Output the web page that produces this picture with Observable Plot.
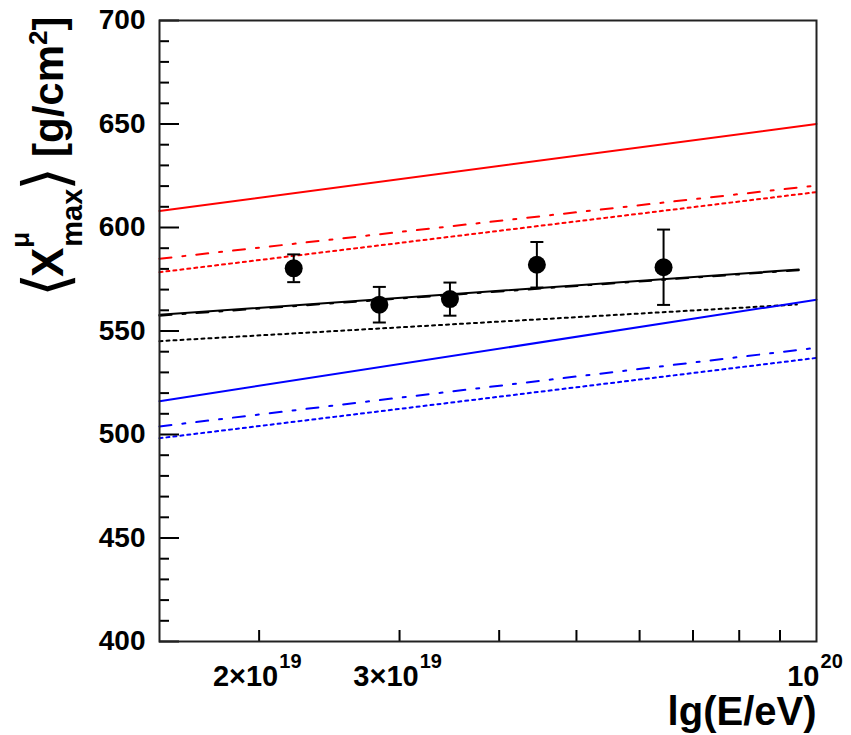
<!DOCTYPE html>
<html><head><meta charset="utf-8">
<script src="https://cdn.jsdelivr.net/npm/d3@7"></script>
<script src="https://cdn.jsdelivr.net/npm/@observablehq/plot@0.6"></script>
<style>body{margin:0;background:#fff}</style>
</head><body><div id="chart"></div>
<script>
// ---- data ----
const modelNames = ["p model 1", "p model 2", "p model 3", "mix model 2", "mix model 1", "mix model 3", "Fe model 1", "Fe model 2", "Fe model 3"];
const modelGroup = ["p", "p", "p", "mix", "mix", "mix", "Fe", "Fe", "Fe"];
const modelKind = ["solid", "dashdot", "dotted", "dashdot", "solid", "dotted", "solid", "dashdot", "dotted"];
const modelStartEnergy = [1.5e19, 1.5e19, 1.5e19, 1.5e19, 1.5e19, 1.5e19, 1.5e19, 1.5e19, 1.5e19];
const modelEndEnergy = [1e20, 1e20, 1e20, 9.5e19, 9.5e19, 9.45e19, 1e20, 1e20, 1e20];
const modelStartXmax = [608.0, 584.9, 578.4, 557.4, 557.8, 545.1, 516.1, 503.9, 498.2];
const modelEndXmax = [650.0, 620.3, 617.1, 579.4, 579.7, 562.8, 565.1, 541.9, 537.0];

const dataEnergy = [2.21e19, 2.83e19, 3.47e19, 4.46e19, 6.43e19];
const dataXmax = [580.3, 562.7, 565.4, 582.0, 580.8];
const dataError = [6.7, 8.6, 8.0, 11.0, 18.2];

const yLabelValues = [400, 450, 500, 550, 600, 650, 700];
const yMajorTicks = [400, 450, 500, 550, 600, 650, 700];
const yMinorTicks = d3.range(400, 701, 10).filter(v => v % 50 !== 0);
const xTickValues = [2e19, 3e19, 4e19, 5e19, 6e19, 7e19, 8e19, 9e19];
const xLabelValues = [2e19, 3e19, 1e20];
const xLabelBase = ["2×10", "3×10", "10"];
const xLabelExp = ["19", "19", "20"];
const xTitle = "lg(E/eV)";

// ---- styles ----
const groupColor = {p: "#ff0000", mix: "#000000", Fe: "#0000ff"};
const kindDash = {solid: null, dashdot: "12,11,3,11", dotted: "3,4"};

const W = 851, H = 735;
const mL = 159, mR = 35, mT = 20, mB = 94;
const plotW = W - mL - mR, plotH = H - mT - mB;
const font = "Liberation Sans, Arial, Helvetica, sans-serif";

const modelTable = modelNames.flatMap((name, i) => [
  {model: name, E: modelStartEnergy[i], X: modelStartXmax[i]},
  {model: name, E: modelEndEnergy[i], X: modelEndXmax[i]}
]);
const points = dataEnergy.map((E, i) => ({E, X: dataXmax[i], lo: dataXmax[i] - dataError[i], hi: dataXmax[i] + dataError[i]}));

const capSymbol = {draw(ctx) { ctx.moveTo(-6.5, 0); ctx.lineTo(6.5, 0); }};

// draw dash-dot first so the solid lies over it
const drawOrder = modelNames.map((_, i) => i).sort((a, b) => (modelKind[a] === "solid") - (modelKind[b] === "solid"));

const marks = [
  ...drawOrder.map(i => Plot.line(modelTable.filter(d => d.model === modelNames[i]), {
    x: "E", y: "X", stroke: groupColor[modelGroup[i]], strokeWidth: 2,
    strokeDasharray: kindDash[modelKind[i]]
  })),
  Plot.ruleX(points, {x: "E", y1: "lo", y2: "hi", stroke: "black", strokeWidth: 2}),
  Plot.dot(points, {x: "E", y: "lo", symbol: capSymbol, stroke: "black", strokeWidth: 2, fill: "none"}),
  Plot.dot(points, {x: "E", y: "hi", symbol: capSymbol, stroke: "black", strokeWidth: 2, fill: "none"}),
  Plot.dot(points, {x: "E", y: "X", r: 9, fill: "black", stroke: "none"}),
  // axis ticks (inside the frame)
  Plot.tickY(yMajorTicks, {y: d => d, insetRight: plotW - 20, stroke: "black", strokeWidth: 2}),
  Plot.tickY(yMinorTicks, {y: d => d, insetRight: plotW - 10, stroke: "black", strokeWidth: 2}),
  Plot.tickX(xTickValues, {x: d => d, insetTop: plotH - 11, stroke: "black", strokeWidth: 2}),
  Plot.frame({stroke: "#222", strokeWidth: 2}),
  // y tick labels
  Plot.text(yLabelValues, {y: d => d, frameAnchor: "left", textAnchor: "end", dx: -14, text: d => String(d), fontSize: 28, fontWeight: "bold", fill: "black"}),
  // x tick labels with exponents
  ...xLabelValues.flatMap((v, i) => {
    const wb = xLabelBase[i].length * 0.556 * 29;
    const we = xLabelExp[i].length * 0.556 * 20;
    const off = (wb - we) / 2 - 2;
    return [
      Plot.text([v], {x: d => d, frameAnchor: "bottom", text: () => xLabelBase[i], textAnchor: "end", lineAnchor: "bottom", dx: off, dy: 44, fontSize: 29, fontWeight: "bold", fill: "black"}),
      Plot.text([v], {x: d => d, frameAnchor: "bottom", text: () => xLabelExp[i], textAnchor: "start", lineAnchor: "bottom", dx: off + 1, dy: 26, fontSize: 20, fontWeight: "bold", fill: "black"})
    ];
  }),
  Plot.text([xTitle], {frameAnchor: "bottom-right", text: d => d, textAnchor: "end", lineAnchor: "bottom", dy: 83, fontSize: 40, fontWeight: "bold", fill: "black"})
];

const chart = Plot.plot({
  width: W, height: H,
  marginLeft: mL, marginRight: mR, marginTop: mT, marginBottom: mB,
  style: {fontFamily: font, background: "white", overflow: "visible"},
  x: {type: "log", domain: [1.5e19, 1e20], axis: null},
  y: {domain: [400, 700], axis: null},
  marks
});
document.getElementById("chart").appendChild(chart);

// y-axis title with sub/superscripts
const svg = d3.select(chart);
const t = svg.append("text")
  .attr("transform", "translate(63,293) rotate(-90)")
  .attr("text-anchor", "start")
  .attr("font-family", font).attr("font-weight", "bold").attr("font-size", 42).attr("fill", "black");
t.append("tspan").attr("font-family", "DejaVu Sans").attr("font-weight", 200).attr("font-size", 62).attr("dx", -4).attr("dy", 4).text("⟨");
t.append("tspan").attr("font-size", 44).attr("dx", -4).attr("dy", -4).text("X");
t.append("tspan").attr("font-size", 26).attr("dy", -34).text("μ");
t.append("tspan").attr("font-size", 29).attr("dx", -15).attr("dy", 53).text("max");
t.append("tspan").attr("font-family", "DejaVu Sans").attr("font-weight", 200).attr("font-size", 62).attr("dx", -2).attr("dy", -15).text("⟩");
t.append("tspan").attr("font-size", 42).attr("dx", -2).attr("dy", -4).text(" [g/cm");
t.append("tspan").attr("font-size", 26).attr("dy", -16).text("2");
t.append("tspan").attr("font-size", 42).attr("dy", 16).text("]");
</script>
</body></html>
